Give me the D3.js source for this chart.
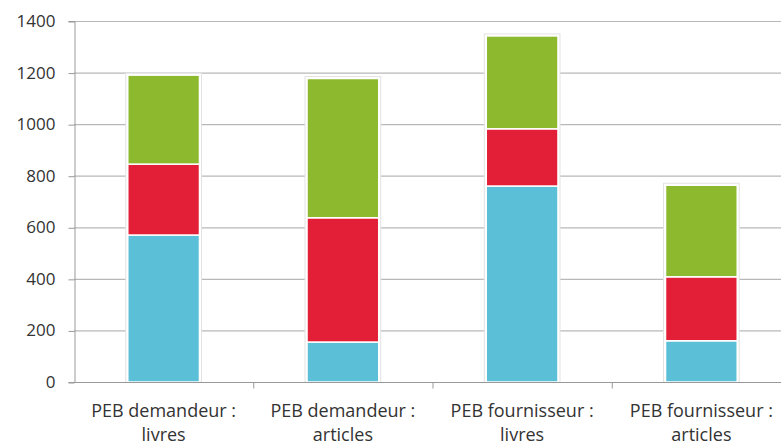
<!DOCTYPE html>
<html>
<head>
    <meta charset="UTF-8" />
    <style>
        body { margin: 0; background: #fff; }
        text { font-family: "Open Sans", sans-serif; fill: #333; }
    </style>
</head>
<body>
    <div id="chart"></div>
    <script src="https://d3js.org/d3.v7.min.js"></script>
    <script>
        // donnees
        const categories = [
            ["PEB demandeur :", "livres"],
            ["PEB demandeur :", "articles"],
            ["PEB fournisseur :", "livres"],
            ["PEB fournisseur :", "articles"]
        ];
        const serieBleue = [570, 155, 760, 160];
        const serieRouge = [275, 482, 222, 248];
        const serieVerte = [345, 540, 360, 355];
        const yTicks = [0, 200, 400, 600, 800, 1000, 1200, 1400];

        const width = 781, height = 445;
        const margin = { top: 21, right: -10, bottom: 63, left: 74 };

        const svg = d3.select("#chart").append("svg")
            .attr("width", width)
            .attr("height", height);

        const x = d3.scaleBand()
            .domain(d3.range(categories.length))
            .range([margin.left, width - margin.right])
            .paddingInner(0.6)
            .paddingOuter(0.3);

        const y = d3.scaleLinear()
            .domain([0, 1400])
            .range([height - margin.bottom, margin.top]);

        // lignes de la grille
        svg.append("g")
            .selectAll("line")
            .data(yTicks.filter(d => d > 0))
            .join("line")
            .attr("x1", margin.left)
            .attr("x2", width)
            .attr("y1", d => y(d) + 0.5)
            .attr("y2", d => y(d) + 0.5)
            .attr("stroke", "#b8b8b8")
            .attr("stroke-width", 1.2);

        // axe vertical
        const yAxis = svg.append("g")
            .attr("transform", `translate(${margin.left + 0.5},0)`)
            .call(d3.axisLeft(y).tickValues(yTicks).tickFormat(d3.format("d")).tickSize(6).tickPadding(13));
        yAxis.select(".domain").attr("stroke", "#999");
        yAxis.selectAll(".tick line").attr("stroke", "#999").attr("transform", "translate(0,0.5)");
        yAxis.selectAll(".tick text")
            .style("font-size", "17px")
            .attr("fill", "#333");

        // empilement
        const rows = categories.map((c, i) => ({ i, bleu: serieBleue[i], rouge: serieRouge[i], vert: serieVerte[i] }));
        const stack = d3.stack().keys(["bleu", "rouge", "vert"])(rows);
        const couleurs = { bleu: "#5bbfd8", rouge: "#e31e37", vert: "#8cb92e" };

        // contour clair autour des barres
        svg.append("g")
            .selectAll("rect")
            .data(rows)
            .join("rect")
            .attr("x", d => x(d.i) - 2)
            .attr("width", x.bandwidth() + 4)
            .attr("y", d => y(d.bleu + d.rouge + d.vert) - 2)
            .attr("height", d => y(0) - y(d.bleu + d.rouge + d.vert) + 2)
            .attr("fill", "#fff")
            .attr("stroke", "#e2e2e2")
            .attr("stroke-width", 1);

        svg.append("g")
            .selectAll("g")
            .data(stack)
            .join("g")
            .attr("fill", s => couleurs[s.key])
            .selectAll("rect")
            .data(s => s)
            .join("rect")
            .attr("x", d => x(d.data.i))
            .attr("width", x.bandwidth())
            .attr("y", d => y(d[1]))
            .attr("height", d => y(d[0]) - y(d[1]))
            .attr("stroke", "#fff")
            .attr("stroke-width", 1.5);

        // axe horizontal
        const x0 = y(0) + 0.5;
        svg.append("line")
            .attr("x1", margin.left).attr("x2", width)
            .attr("y1", x0).attr("y2", x0)
            .attr("stroke", "#999");
        const step = x.step();
        svg.append("g")
            .selectAll("line")
            .data(d3.range(1, categories.length))
            .join("line")
            .attr("x1", i => x(i) - step * 0.3 + 0.5)
            .attr("x2", i => x(i) - step * 0.3 + 0.5)
            .attr("y1", x0)
            .attr("y2", x0 + 6)
            .attr("stroke", "#999");

        // etiquettes des categories
        const lab = svg.append("g")
            .selectAll("text")
            .data(categories)
            .join("text")
            .attr("text-anchor", "middle")
            .style("font-size", "18px")
            .attr("transform", (c, i) => `translate(${x(i) + x.bandwidth() / 2},417)`);
        lab.append("tspan").attr("x", 0).attr("y", 0).text(c => c[0]);
        lab.append("tspan").attr("x", 0).attr("y", 24).text(c => c[1]);
    </script>
</body>
</html>
